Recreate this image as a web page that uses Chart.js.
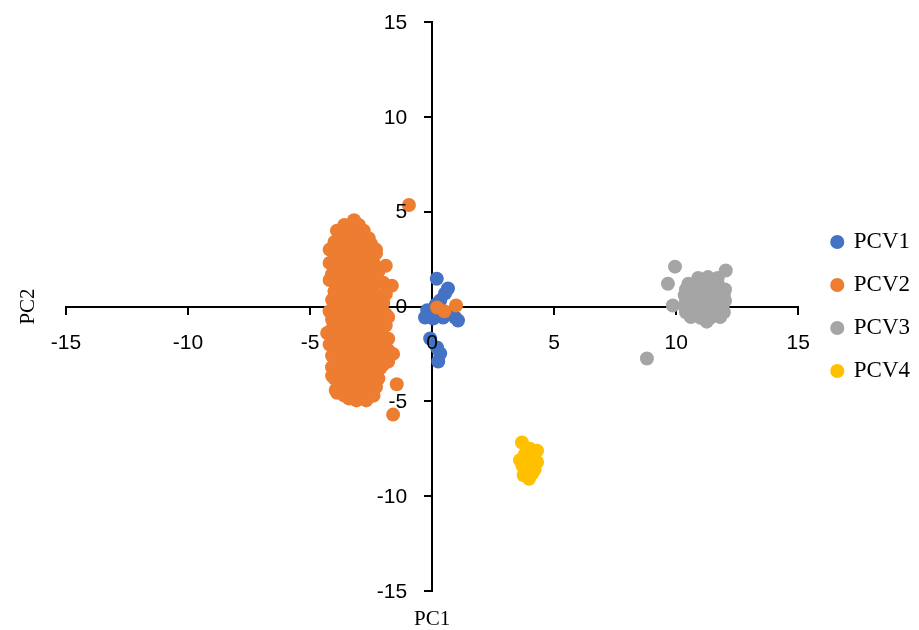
<!DOCTYPE html>
<html>
<head>
<meta charset="utf-8">
<script src="https://cdn.jsdelivr.net/npm/chart.js@4.4.1/dist/chart.umd.min.js"></script>
<style>
  html, body { margin: 0; padding: 0; background: #fff; }
  #wrap { width: 919px; height: 630px; }
</style>
</head>
<body>
<div id="wrap"><canvas id="pcaChart" width="919" height="630"></canvas></div>
<script>
// series names and colours
const seriesNames = ['PCV1', 'PCV2', 'PCV3', 'PCV4'];
const seriesColors = ['#4472C4', '#ED7D31', '#A5A5A5', '#FFC000'];
const axisTicks = [-15, -10, -5, 0, 5, 10, 15];

// [PC1, PC2] pairs
const pcv1 = [
  [0.19, 1.46], [0.65, 0.95], [0.53, 0.69], [0.33, 0.32], [0.15, 0.1],
  [-0.2, -0.2], [-0.29, -0.58], [0.04, -0.63], [0.45, -0.58], [0.94, -0.58],
  [1.06, -0.74], [0.2, -0.25], [0.7, -0.4], [-0.1, -0.45],
  [-0.08, -1.69], [0.2, -2.16], [0.33, -2.48], [0.25, -2.9]
];

const pcv2 = [
  [-3.2, 4.55], [-3.6, 4.3], [-3.0, 4.3], [-3.2, 4.15], [-3.9, 4.0], [-3.4, 4.0], [-2.8, 4.0],
  [-3.7, 3.85], [-3.1, 3.85], [-3.5, 3.7], [-2.6, 3.6], [-3.8, 3.55], [-2.9, 3.55],
  [-4.0, 3.4], [-3.2, 3.4], [-2.5, 3.3], [-3.9, 3.2], [-3.3, 3.2], [-2.7, 3.2],
  [-4.2, 3.0], [-3.6, 3.0], [-2.9, 3.0], [-2.3, 3.0],
  [-4.0, 2.8], [-3.5, 2.8], [-2.8, 2.8], [-2.3, 2.8],
  [-3.9, 2.6], [-3.3, 2.6], [-2.6, 2.6], [-3.6, 2.45], [-2.8, 2.45],
  [-4.2, 2.3], [-3.0, 2.3], [-2.4, 2.3], [-1.9, 2.15], [-3.9, 2.15], [-3.4, 2.15],
  [-3.7, 2.0], [-3.1, 2.0], [-2.7, 2.0], [-3.8, 1.85], [-2.9, 1.85], [-2.2, 1.85],
  [-4.1, 1.7], [-3.4, 1.7], [-2.5, 1.7], [-3.3, 1.55], [-2.7, 1.55],
  [-4.2, 1.4], [-3.8, 1.4], [-3.0, 1.4], [-2.3, 1.4],
  [-4.0, 1.25], [-3.2, 1.25], [-2.5, 1.25], [-2.0, 1.25],
  [-3.5, 1.1], [-2.8, 1.1], [-1.65, 1.1], [-3.8, 0.95], [-2.6, 0.95],
  [-4.0, 0.8], [-3.2, 0.8], [-2.4, 0.8], [-3.4, 0.65], [-2.8, 0.65], [-1.9, 0.65],
  [-4.0, 0.5], [-3.6, 0.5], [-3.0, 0.5], [-2.2, 0.5], [-4.1, 0.35], [-2.4, 0.35],
  [-3.9, 0.2], [-3.3, 0.2], [-2.6, 0.2], [-2.0, 0.2], [-3.7, 0.05], [-3.1, 0.05], [-2.1, 0.05],
  [-4.0, -0.1], [-3.5, -0.1], [-2.9, -0.1], [-2.3, -0.1], [-4.2, -0.25], [-3.4, -0.25], [-2.7, -0.25],
  [-3.8, -0.4], [-3.1, -0.4], [-2.5, -0.4], [-1.9, -0.4], [-3.7, -0.55], [-2.4, -0.55], [-1.8, -0.55],
  [-4.1, -0.7], [-3.5, -0.7], [-2.8, -0.7], [-2.1, -0.7], [-3.4, -0.85], [-2.3, -0.85],
  [-3.9, -1.0], [-3.2, -1.0], [-2.6, -1.0], [-1.9, -1.0],
  [-4.1, -1.2], [-3.4, -1.2], [-2.8, -1.2], [-2.1, -1.2],
  [-4.3, -1.4], [-3.6, -1.4], [-2.9, -1.4], [-2.3, -1.4], [-3.9, -1.55], [-3.1, -1.55], [-2.5, -1.55],
  [-4.0, -1.7], [-3.3, -1.7], [-2.6, -1.7], [-1.8, -1.7], [-3.6, -1.85], [-2.8, -1.85], [-2.1, -1.85],
  [-4.2, -2.0], [-3.7, -2.0], [-3.0, -2.0], [-2.3, -2.0],
  [-4.0, -2.15], [-3.4, -2.15], [-2.6, -2.15], [-2.0, -2.15],
  [-3.9, -2.3], [-3.2, -2.3], [-2.5, -2.3], [-1.8, -2.3], [-3.7, -2.45], [-3.0, -2.45], [-2.2, -2.45],
  [-4.1, -2.6], [-3.5, -2.6], [-2.8, -2.6], [-1.6, -2.5], [-3.3, -2.75], [-2.6, -2.75], [-2.1, -2.75],
  [-3.8, -2.9], [-3.1, -2.9], [-2.4, -2.9], [-1.8, -2.9],
  [-4.0, -3.05], [-3.4, -3.05], [-2.7, -3.05], [-2.0, -3.05],
  [-4.1, -3.2], [-3.5, -3.2], [-2.8, -3.2], [-2.1, -3.2], [-3.6, -3.35], [-2.9, -3.35], [-2.2, -3.35],
  [-3.8, -3.5], [-3.1, -3.5], [-2.5, -3.5], [-4.1, -3.65], [-3.3, -3.65], [-2.7, -3.65],
  [-4.0, -3.8], [-3.4, -3.8], [-2.8, -3.8], [-2.2, -3.8], [-3.7, -3.95], [-3.1, -3.95], [-2.4, -3.95],
  [-3.7, -4.1], [-3.0, -4.1], [-2.5, -4.1], [-1.45, -4.1], [-3.5, -4.25], [-2.9, -4.25], [-2.3, -4.25],
  [-3.95, -4.4], [-3.3, -4.4], [-2.7, -4.4], [-3.9, -4.55], [-3.2, -4.55], [-2.6, -4.55],
  [-3.6, -4.7], [-2.9, -4.7], [-2.4, -4.7], [-3.4, -4.85],
  [-3.1, -4.95], [-2.7, -4.95],
  [-1.6, -5.7], [-0.95, 5.35],
  [0.2, -0.05], [0.5, -0.25], [0.98, 0.05]
];

const pcv3 = [
  [9.95, 2.1], [9.66, 1.2], [9.86, 0.05], [8.8, -2.74], [12.03, 1.9],
  [10.9, 1.5], [11.3, 1.55], [11.7, 1.5],
  [10.5, 1.2], [10.9, 1.2], [11.3, 1.2], [11.7, 1.2],
  [10.4, 0.9], [10.8, 0.9], [11.2, 0.9], [11.6, 0.9], [12.0, 0.9],
  [10.35, 0.6], [10.7, 0.6], [11.1, 0.6], [11.5, 0.6], [11.95, 0.6],
  [10.4, 0.3], [10.8, 0.3], [11.2, 0.3], [11.6, 0.3], [12.0, 0.3],
  [10.35, 0.0], [10.7, 0.0], [11.1, 0.0], [11.5, 0.0], [11.9, 0.0],
  [10.4, -0.3], [10.8, -0.3], [11.2, -0.3], [11.6, -0.3], [11.95, -0.3],
  [10.6, -0.55], [11.0, -0.6], [11.4, -0.6], [11.8, -0.55],
  [11.25, -0.8]
];

const pcv4 = [
  [3.68, -7.17], [4.3, -7.6], [4.0, -7.5], [3.8, -7.8], [4.1, -8.0],
  [3.6, -8.1], [3.85, -8.1], [4.3, -8.2], [3.7, -8.4], [4.05, -8.4],
  [3.9, -8.6], [4.2, -8.6], [3.75, -8.9], [4.1, -8.8], [3.97, -9.08]
];

const seriesData = [pcv1, pcv2, pcv3, pcv4];
// PCV2 sits on top of PCV1 near the origin
const drawOrder = [1, 0, 2, 3];

const datasets = seriesNames.map((name, i) => ({
  label: name,
  data: seriesData[i].map(p => ({ x: p[0], y: p[1] })),
  backgroundColor: seriesColors[i],
  borderColor: seriesColors[i],
  borderWidth: 0,
  pointRadius: 7,
  pointHoverRadius: 7,
  pointStyle: 'circle',
  order: drawOrder[i]
}));

const tickFontCss = '21px "Liberation Sans"';

// tick labels drawn on top of the points, beside the crossing axes
const tickLabels = {
  id: 'tickLabels',
  afterDraw(chart) {
    const { ctx } = chart;
    const xs = chart.scales.x, ys = chart.scales.y;
    const x0 = xs.getPixelForValue(0);
    const y0 = ys.getPixelForValue(0);
    ctx.save();
    ctx.font = tickFontCss;
    ctx.fillStyle = '#000';
    ctx.textBaseline = 'middle';
    ctx.textAlign = 'center';
    axisTicks.forEach(v => ctx.fillText(String(v), xs.getPixelForValue(v), y0 + 37));
    ctx.textAlign = 'right';
    axisTicks.forEach(v => ctx.fillText(String(v), x0 - 25, ys.getPixelForValue(v) + 1));
    ctx.restore();
  }
};

// leave a gap between the plot and the legend
const legendGap = {
  id: 'legendGap',
  afterLayout(chart) {
    chart.legend.left += 14;
    chart.legend.right += 14;
  }
};

const axisGrid = { drawOnChartArea: false, drawTicks: true, tickLength: 7, color: '#000', lineWidth: 2 };

const ctx = document.getElementById('pcaChart').getContext('2d');
new Chart(ctx, {
  type: 'scatter',
  data: { datasets: datasets },
  plugins: [tickLabels, legendGap],
  options: {
    responsive: false,
    animation: false,
    events: [],
    layout: { padding: { top: 22, right: 13, left: 1, bottom: 0 } },
    scales: {
      x: {
        type: 'linear',
        position: { y: 0 },
        min: -15,
        max: 15,
        afterBuildTicks: s => { s.ticks = axisTicks.map(v => ({ value: v })); },
        grid: axisGrid,
        border: { color: '#000', width: 2 },
        ticks: { display: false }
      },
      y: {
        type: 'linear',
        position: { x: 0 },
        min: -15,
        max: 15,
        afterBuildTicks: s => { s.ticks = axisTicks.map(v => ({ value: v })); },
        grid: axisGrid,
        border: { color: '#000', width: 2 },
        ticks: { display: false }
      }
    },
    plugins: {
      tooltip: { enabled: false },
      title: {
        display: true,
        text: 'PC2',
        position: 'left',
        fullSize: false,
        color: '#000',
        font: { family: 'Liberation Serif', size: 21, weight: 'normal', lineHeight: 1 },
        padding: { top: 17, bottom: 27 }
      },
      subtitle: {
        display: true,
        text: 'PC1',
        position: 'bottom',
        fullSize: false,
        color: '#000',
        font: { family: 'Liberation Serif', size: 21, weight: 'normal', lineHeight: 1 },
        padding: { top: 18, bottom: 0 }
      },
      legend: {
        display: true,
        position: 'right',
        fullSize: false,
        labels: {
          color: '#000',
          font: { family: 'Liberation Serif', size: 23 },
          usePointStyle: true,
          pointStyle: 'circle',
          boxWidth: 10,
          boxHeight: 10,
          padding: 20,
          sort: (a, b) => a.datasetIndex - b.datasetIndex
        }
      }
    }
  }
});
</script>
</body>
</html>
